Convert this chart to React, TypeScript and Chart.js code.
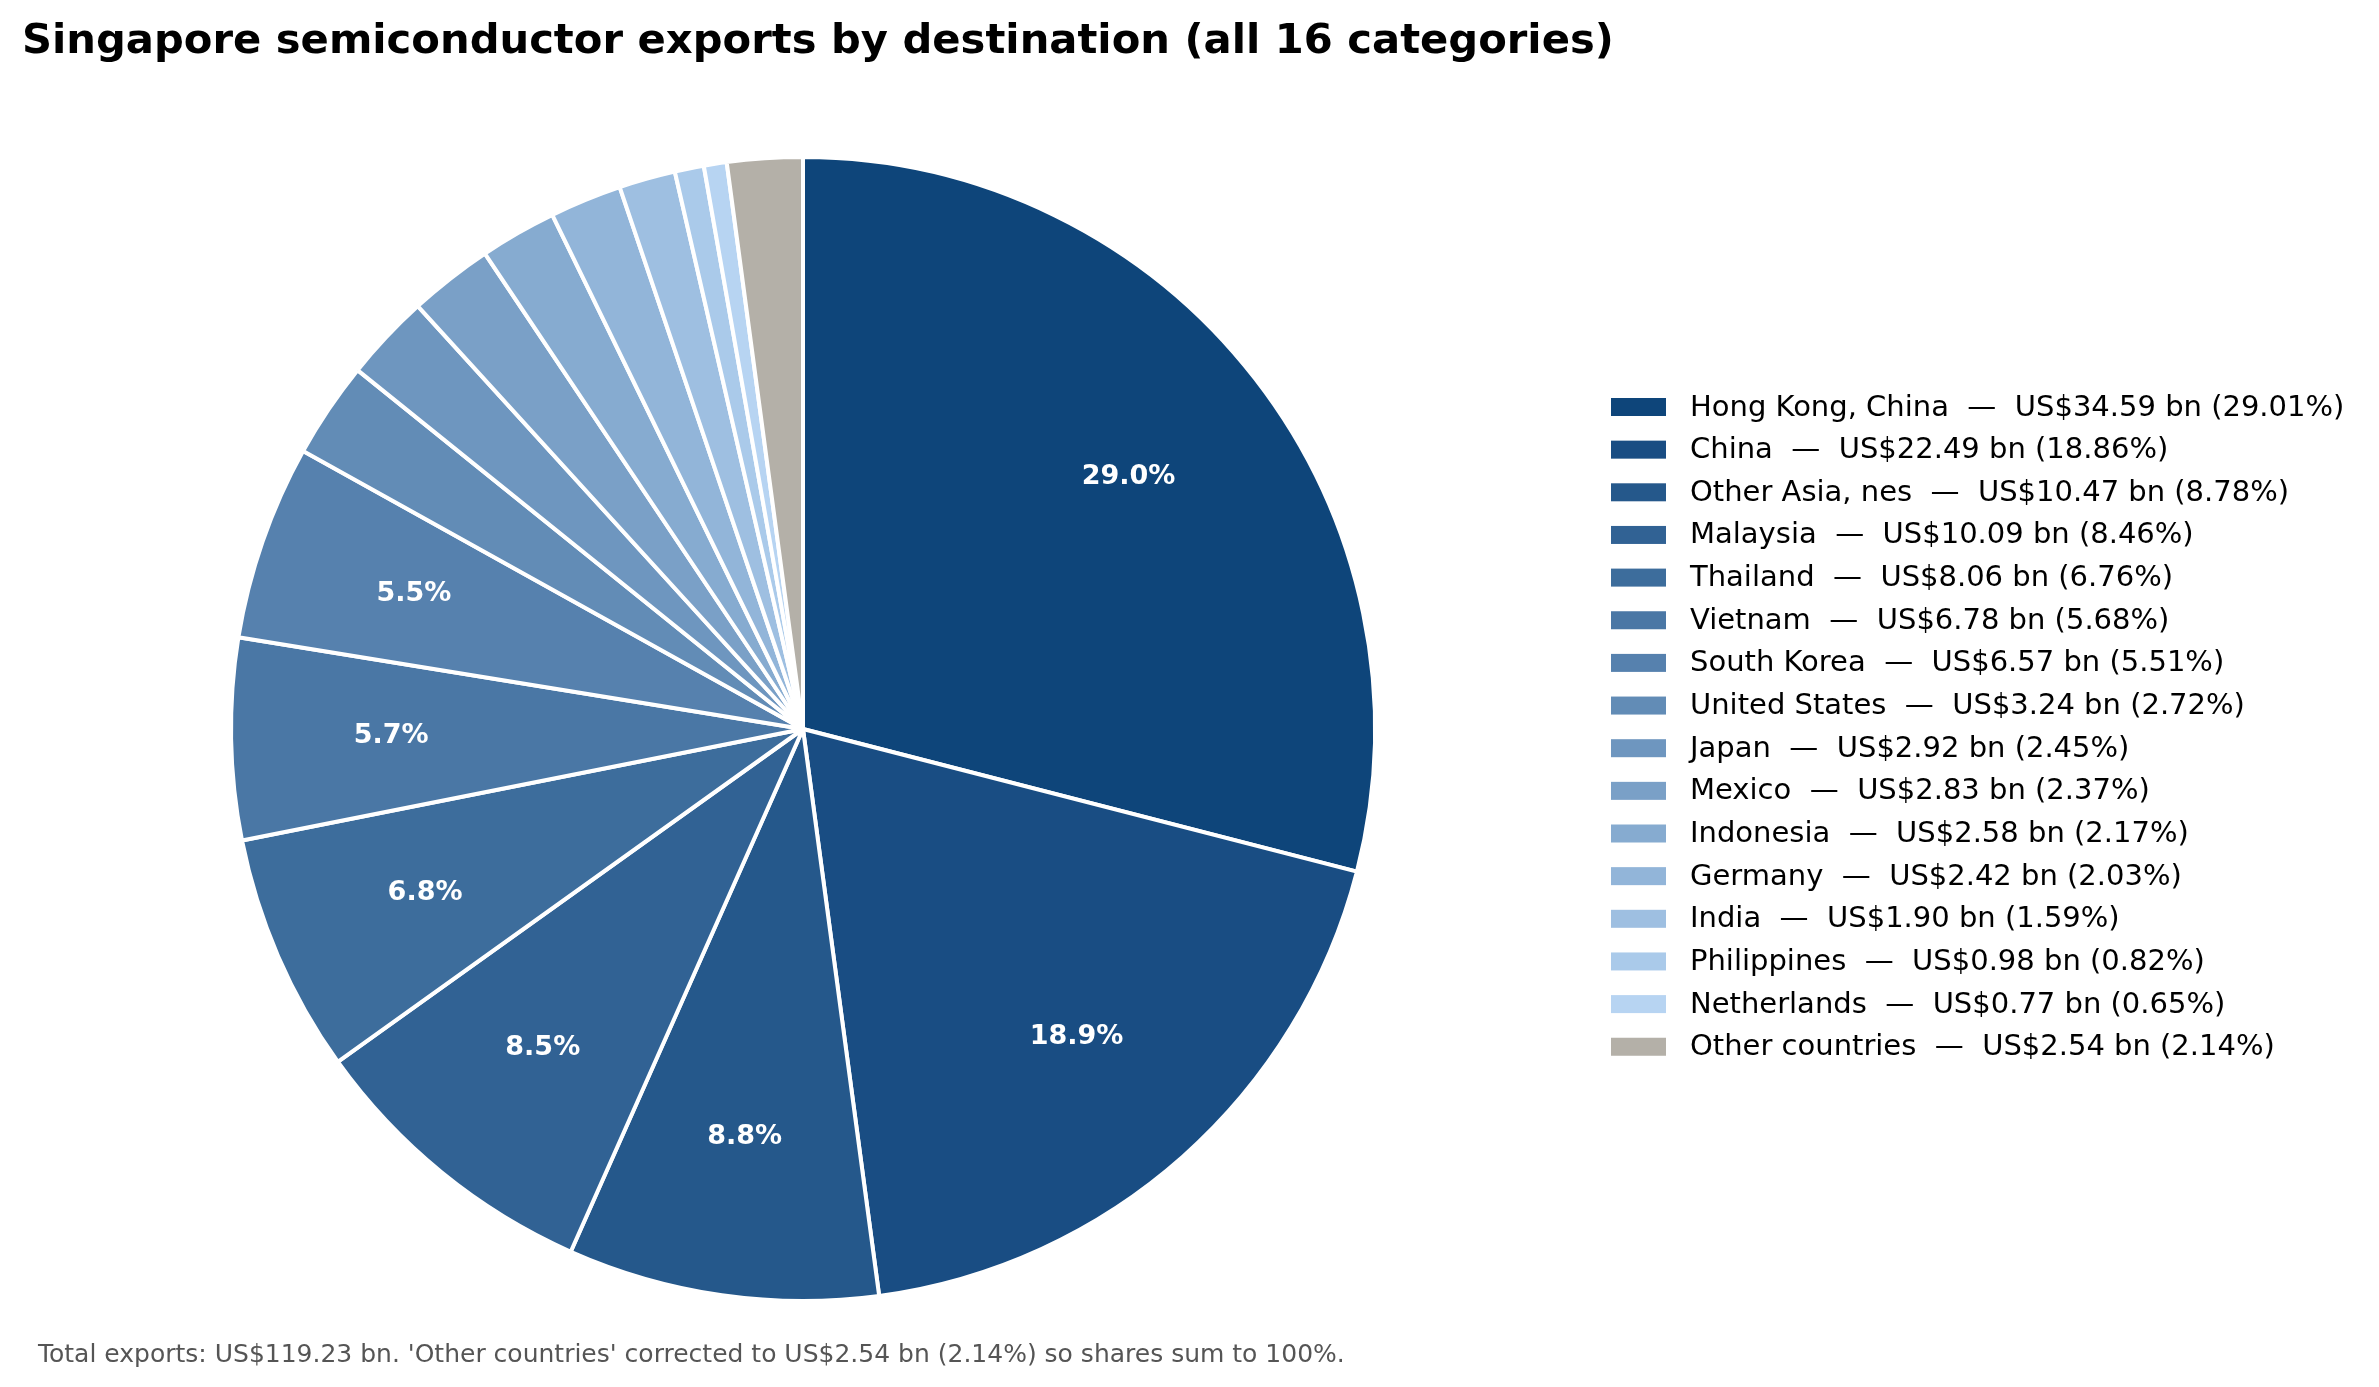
import { useEffect, useRef } from 'react';
import { Chart, registerables } from 'chart.js';

Chart.register(...registerables);

const destinations = [
  'Hong Kong, China',
  'China',
  'Other Asia, nes',
  'Malaysia',
  'Thailand',
  'Vietnam',
  'South Korea',
  'United States',
  'Japan',
  'Mexico',
  'Indonesia',
  'Germany',
  'India',
  'Philippines',
  'Netherlands',
  'Other countries',
];

// US$ bn
const exportsBn = [34.59, 22.49, 10.47, 10.09, 8.06, 6.78, 6.57, 3.24, 2.92, 2.83, 2.58, 2.42, 1.9, 0.98, 0.77, 2.54];

// share of total, %
const sharePct = [29.01, 18.86, 8.78, 8.46, 6.76, 5.68, 5.51, 2.72, 2.45, 2.37, 2.17, 2.03, 1.59, 0.82, 0.65, 2.14];

const sliceColors = [
  '#0e457a',
  '#194d83',
  '#25588b',
  '#316294',
  '#3d6d9c',
  '#4a77a5',
  '#5681ae',
  '#628cb6',
  '#6e96bf',
  '#7aa0c7',
  '#86abd0',
  '#92b5d9',
  '#9ebfe1',
  '#aacaea',
  '#b7d4f2',
  '#b4b0a8',
];

const titleText = 'Singapore semiconductor exports by destination (all 16 categories)';
const footnoteText =
  "Total exports: US$119.23 bn. 'Other countries' corrected to US$2.54 bn (2.14%) so shares sum to 100%.";

const FONT = '"DejaVu Sans", sans-serif';

const legendLabel = (i: number) =>
  `${destinations[i]}  \u2014  US$${exportsBn[i].toFixed(2)} bn (${sharePct[i].toFixed(2)}%)`;

// percentage text inside the bigger slices
const sliceLabels = {
  id: 'sliceLabels',
  afterDatasetsDraw(chart: Chart) {
    const { ctx } = chart;
    const meta = chart.getDatasetMeta(0);
    ctx.save();
    ctx.font = `bold 27px ${FONT}`;
    ctx.fillStyle = '#ffffff';
    ctx.textAlign = 'center';
    ctx.textBaseline = 'middle';
    meta.data.forEach((el: any, i: number) => {
      if (sharePct[i] < 5) return;
      const { x, y, startAngle, endAngle, outerRadius } = el.getProps(
        ['x', 'y', 'startAngle', 'endAngle', 'outerRadius'],
        true
      );
      const mid = (startAngle + endAngle) / 2;
      const r = outerRadius * 0.72;
      ctx.fillText(`${sharePct[i].toFixed(1)}%`, x + Math.cos(mid) * r, y + Math.sin(mid) * r);
    });
    ctx.restore();
  },
};

// title, legend to the right of the pie, and footnote
// (the title is drawn here because the built-in one is clipped to the pie's column)
const sideLegend = {
  id: 'sideLegend',
  afterDraw(chart: Chart) {
    const { ctx } = chart;
    const colors = chart.data.datasets[0].backgroundColor as string[];
    ctx.save();
    ctx.textAlign = 'left';
    ctx.textBaseline = 'alphabetic';
    ctx.font = `bold 41.7px ${FONT}`;
    ctx.fillStyle = '#000000';
    ctx.fillText(titleText, 22, 53);

    ctx.font = `29px ${FONT}`;
    ctx.textBaseline = 'middle';
    (chart.data.labels as string[]).forEach((_, i) => {
      const y = 407 + i * 42.65;
      ctx.fillStyle = colors[i];
      ctx.fillRect(1611, y - 9, 55, 18);
      ctx.fillStyle = '#000000';
      ctx.fillText(legendLabel(i), 1690, y + 1);
    });

    ctx.font = `25px ${FONT}`;
    ctx.fillStyle = '#555555';
    ctx.textBaseline = 'alphabetic';
    ctx.fillText(footnoteText, 38, 1362);
    ctx.restore();
  },
};

export default function App() {
  const chartRef = useRef<HTMLCanvasElement>(null);
  const chartInstance = useRef<Chart | null>(null);

  useEffect(() => {
    document.body.style.margin = '0';
    if (!chartRef.current) return;

    if (chartInstance.current) {
      chartInstance.current.destroy();
    }

    const ctx = chartRef.current.getContext('2d');
    if (ctx) {
      chartInstance.current = new Chart(ctx, {
        type: 'pie',
        data: {
          labels: destinations,
          datasets: [
            {
              data: exportsBn,
              backgroundColor: sliceColors,
              borderColor: '#ffffff',
              borderWidth: 4,
            },
          ],
        },
        options: {
          responsive: true,
          maintainAspectRatio: false,
          animation: false,
          events: [],
          layout: {
            padding: { left: 22, right: 795, top: 155, bottom: 84 },
          },
          plugins: {
            legend: { display: false },
            tooltip: { enabled: false },
            title: { display: false },
          },
        },
        plugins: [sliceLabels, sideLegend],
      });
    }

    return () => {
      if (chartInstance.current) {
        chartInstance.current.destroy();
        chartInstance.current = null;
      }
    };
  }, []);

  return (
    <div style={{ position: 'relative', width: 2379, height: 1387, background: '#ffffff' }}>
      <canvas ref={chartRef}></canvas>
    </div>
  );
}
